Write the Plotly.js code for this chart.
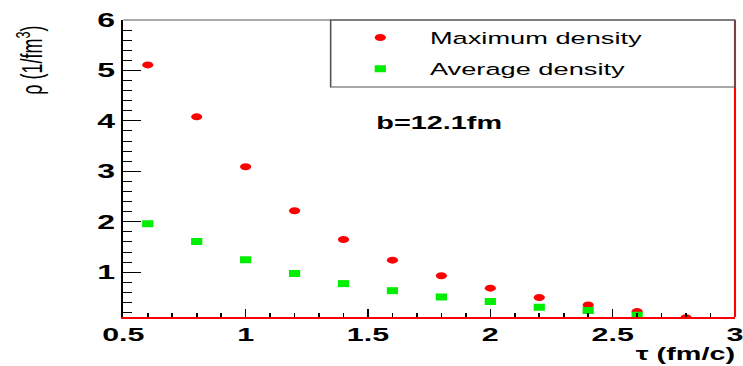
<!DOCTYPE html>
<html>
<head>
<meta charset="utf-8">
<script src="https://cdn.plot.ly/plotly-3.0.1.min.js"></script>
<style>
html,body{margin:0;padding:0;overflow:hidden;background:#fff;}
#wrap{width:743px;height:366px;overflow:hidden;}
#chart{width:464px;height:366px;transform:scaleX(1.601293);transform-origin:0 0;}
</style>
</head>
<body>
<div id="wrap"><div id="chart"></div></div>
<script>
// data
const tauMax = [0.6, 0.8, 1.0, 1.2, 1.4, 1.6, 1.8, 2.0, 2.2, 2.4, 2.6, 2.8];
const rhoMax = [5.11, 4.08, 3.09, 2.22, 1.65, 1.24, 0.93, 0.685, 0.50, 0.35, 0.22, 0.10];
const tauAvg = [0.6, 0.8, 1.0, 1.2, 1.4, 1.6, 1.8, 2.0, 2.2, 2.4, 2.6];
const rhoAvg = [1.96, 1.61, 1.25, 0.975, 0.775, 0.635, 0.51, 0.42, 0.305, 0.24, 0.15];
const seriesNames = ["Maximum density", "Average density"];
const xTickVals = [0.5, 1, 1.5, 2, 2.5, 3];
const xTickText = ["0.5", "1", "1.5", "2", "2.5", "3"];
const yTickVals = [1, 2, 3, 4, 5, 6];
const xTitle = "\u03c4 (fm/c)";
const yTitle = "\u03c1 (1/fm<sup>3</sup>)";
const label = "b=12.1fm";

const FONT = "Liberation Sans, Arial, Helvetica, sans-serif";

const traces = [
  {x: tauMax, y: rhoMax, name: seriesNames[0], type: "scatter", mode: "markers",
   legendgroup: "a",
   marker: {symbol: "circle", size: 7, color: "#ff0000"}},
  {x: tauAvg, y: rhoAvg, name: seriesNames[1], type: "scatter", mode: "markers",
   legendgroup: "b",
   marker: {symbol: "square", size: 7, color: "#00ee00"}}
];

const layout = {
  width: 464, height: 366,
  margin: {l: 77.4, r: 5, t: 20, b: 49.3, pad: 0},
  paper_bgcolor: "#ffffff", plot_bgcolor: "#ffffff",
  font: {family: FONT, color: "#000"},
  showlegend: true,
  legend: {x: 0.339, xanchor: "left", y: 1, yanchor: "top",
           bgcolor: "rgba(0,0,0,0)", borderwidth: 0, itemwidth: 52,
           traceorder: "grouped", tracegroupgap: 6,
           font: {family: FONT, size: 17, color: "#000"}},
  xaxis: {range: [0.5, 3], tickmode: "array", tickvals: xTickVals, ticktext: xTickText,
          showgrid: false, zeroline: false,
          showline: true, linecolor: "#ff0000", linewidth: 1.6,
          ticks: "inside", ticklen: 8, tickwidth: 1, tickcolor: "#000",
          ticklabeloverflow: "allow",
          minor: {dtick: 0.1, tick0: 0.5, ticks: "inside", ticklen: 4, tickcolor: "#000", tickwidth: 1, showgrid: false},
          tickfont: {family: FONT, size: 19, weight: "bold", color: "#000"}},
  yaxis: {range: [0.113, 6], tickmode: "array", tickvals: yTickVals,
          showgrid: false, zeroline: false,
          showline: true, linecolor: "#000", linewidth: 1.2,
          ticks: "inside", ticklen: 11, tickwidth: 1, tickcolor: "#000",
          ticklabeloverflow: "allow",
          minor: {dtick: 0.2, tick0: 0, ticks: "inside", ticklen: 5.6, tickcolor: "#000", tickwidth: 1, showgrid: false},
          tickfont: {family: FONT, size: 20, weight: "bold", color: "#000"}},
  shapes: [
    {type: "line", xref: "paper", yref: "paper", x0: 0, x1: 1, y0: 1, y1: 1,
     line: {color: "#555", width: 1}},
    {type: "line", xref: "paper", yref: "paper", x0: 1, x1: 1, y0: 0, y1: 1,
     line: {color: "#ff0000", width: 1.3}},
    {type: "rect", xref: "paper", yref: "paper", x0: 0.339, x1: 1, y0: 0.774, y1: 1,
     line: {color: "#555", width: 1}, fillcolor: "rgba(0,0,0,0)"}
  ],
  annotations: [
    {text: label, xref: "paper", yref: "paper", x: 0.4075, y: 0.653,
     xanchor: "left", yanchor: "middle", showarrow: false,
     font: {family: FONT, size: 18, weight: "bold", color: "#000"}},
    {text: xTitle, xref: "paper", yref: "paper", x: 1.0034, y: 0, yshift: -26,
     xanchor: "right", yanchor: "top", showarrow: false, borderpad: 0,
     font: {family: FONT, size: 18, weight: "bold", color: "#000"}},
    {text: yTitle, xref: "paper", yref: "paper", x: -0.153, y: 0.865,
     xanchor: "center", yanchor: "middle", showarrow: false, textangle: -90,
     font: {family: FONT, size: 18, color: "#000"}}
  ]
};

Plotly.newPlot("chart", traces, layout, {displayModeBar: false, staticPlot: true});
</script>
</body>
</html>
